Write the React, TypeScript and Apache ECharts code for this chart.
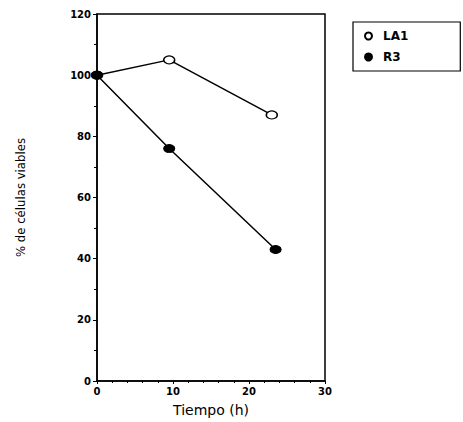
import React, { useEffect, useRef } from "react";
import * as echarts from "echarts";

const timeLA1 = [0, 9.5, 23];
const valuesLA1 = [100, 105, 87];
const timeR3 = [0, 9.5, 23.5];
const valuesR3 = [100, 76, 43];
const seriesNames = ["LA1", "R3"];
const xTitle = "Tiempo (h)";
const yTitle = "% de células viables";

export default function App() {
  const ref = useRef<HTMLDivElement>(null);
  useEffect(() => {
    if (!ref.current) return;
    const chart = echarts.init(ref.current, null, { renderer: "svg" });
    const labelFont = {
      color: "#000",
      fontFamily: "'DejaVu Sans', sans-serif",
      fontWeight: "bold" as const,
      fontSize: 10,
    };
    chart.setOption({
      animation: false,
      backgroundColor: "#fff",
      grid: {
        left: 97,
        right: 138,
        top: 14,
        bottom: 39,
        show: true,
        borderColor: "#000",
        borderWidth: 1.5,
      },
      legend: {
        left: 353,
        top: 22,
        orient: "vertical",
        data: seriesNames,
        borderColor: "#000",
        borderWidth: 1.2,
        padding: [8, 52, 8, 11],
        itemGap: 9,
        itemWidth: 11,
        itemHeight: 7,
        icon: "circle",
        textStyle: {
          color: "#000",
          fontFamily: "'DejaVu Sans', sans-serif",
          fontWeight: "bold",
          fontSize: 12,
          padding: [0, 0, 0, 4],
        },
      },
      xAxis: {
        type: "value",
        min: 0,
        max: 30,
        interval: 10,
        name: xTitle,
        nameLocation: "middle",
        nameGap: 22,
        nameTextStyle: {
          color: "#000",
          fontFamily: "'DejaVu Sans', sans-serif",
          fontSize: 14,
        },
        axisLine: { lineStyle: { color: "#000", width: 1.5 } },
        axisTick: { show: true, length: 3, lineStyle: { color: "#000" } },
        minorTick: { show: true, splitNumber: 5, length: 2, lineStyle: { color: "#000" } },
        splitLine: { show: false },
        axisLabel: { ...labelFont, margin: 5 },
      },
      yAxis: {
        type: "value",
        min: 0,
        max: 120,
        interval: 20,
        name: yTitle,
        nameLocation: "middle",
        nameGap: 70,
        nameTextStyle: {
          color: "#000",
          fontFamily: "'Liberation Sans Narrow', 'DejaVu Sans Condensed', 'Liberation Sans', sans-serif",
          fontSize: 13,
        },
        axisLine: { lineStyle: { color: "#000", width: 1.5 } },
        axisTick: { show: true, length: 4, lineStyle: { color: "#000" } },
        minorTick: { show: true, splitNumber: 2, length: 3, lineStyle: { color: "#000" } },
        splitLine: { show: false },
        axisLabel: { ...labelFont, margin: 6 },
      },
      series: [
        {
          name: seriesNames[0],
          type: "line",
          data: timeLA1.map((t, i) => [t, valuesLA1[i]]),
          symbol: "circle",
          symbolSize: [11, 8],
          lineStyle: { color: "#000", width: 1.5 },
          itemStyle: { color: "#fff", borderColor: "#000", borderWidth: 1.3 },
          z: 3,
        },
        {
          name: seriesNames[1],
          type: "line",
          data: timeR3.map((t, i) => [t, valuesR3[i]]),
          symbol: "circle",
          symbolSize: [11, 8],
          lineStyle: { color: "#000", width: 1.5 },
          itemStyle: { color: "#000", borderColor: "#000", borderWidth: 1 },
          z: 4,
        },
      ],
    });
    return () => chart.dispose();
  }, []);
  return <div ref={ref} style={{ width: 463, height: 422, position: "absolute", left: 0, top: 0 }} />;
}
